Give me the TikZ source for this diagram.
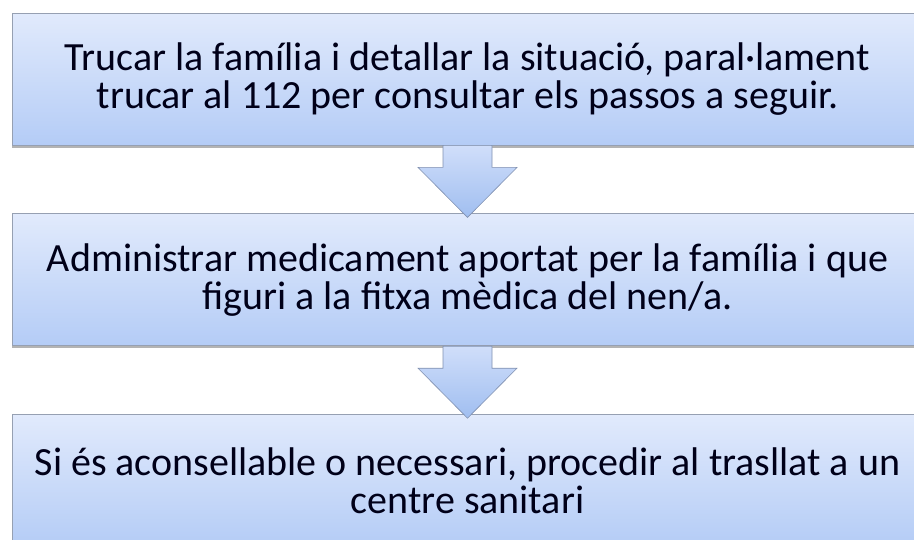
\documentclass[tikz,border=0pt]{standalone}
\usepackage{fontspec}
\setmainfont{Carlito}
\usetikzlibrary{positioning,calc,shadows}

\definecolor{boxtop}{RGB}{225,234,252}
\definecolor{boxbottom}{RGB}{180,204,246}
\definecolor{boxline}{RGB}{150,160,178}
\definecolor{arrowtop}{RGB}{208,222,250}
\definecolor{arrowbottom}{RGB}{160,190,240}
\definecolor{arrowline}{RGB}{128,144,176}

\begin{document}
\begin{tikzpicture}[x=1pt,y=1pt,
                    box/.style={rectangle,draw=boxline,line width=0.8pt,
                                top color=boxtop,bottom color=boxbottom,
                                minimum width=911pt,minimum height=132pt,
                                align=center,text=black!90!blue,
                                font=\fontsize{40}{38}\selectfont,
                                drop shadow={shadow xshift=0pt,shadow yshift=-2.5pt,fill=gray,opacity=0.6}},
                    blockarrow/.style={draw=arrowline,line width=0.6pt,line join=miter,
                                top color=arrowtop,bottom color=arrowbottom}]
    \useasboundingbox (0,0) rectangle (914,-539);

    %Nodes
        \node[box] (1) at (467.5,-79) {Trucar la família i detallar la situació, paral·lament\\trucar al 112 per consultar els passos a seguir.};
        \node[box,below=68pt of 1] (2) {Administrar medicament aportat per la família i que\\figuri a la fitxa mèdica del nen/a.};
        \node[box,below=68pt of 2] (3) {Si és aconsellable o necessari, procedir al trasllat a un\\centre sanitari};

    %Arrows
        \foreach \a/\b in {1/2,2/3}
            \draw[blockarrow] ($(\a.south)+(-24.5,0)$) -- ++(0,-22) -- ++(-25,0)
                -- ($(\b.north)+(0,-4)$) -- ($(\a.south)+(49.5,-22)$) -- ++(-25,0)
                -- ($(\a.south)+(24.5,0)$) -- cycle;
\end{tikzpicture}
\end{document}
